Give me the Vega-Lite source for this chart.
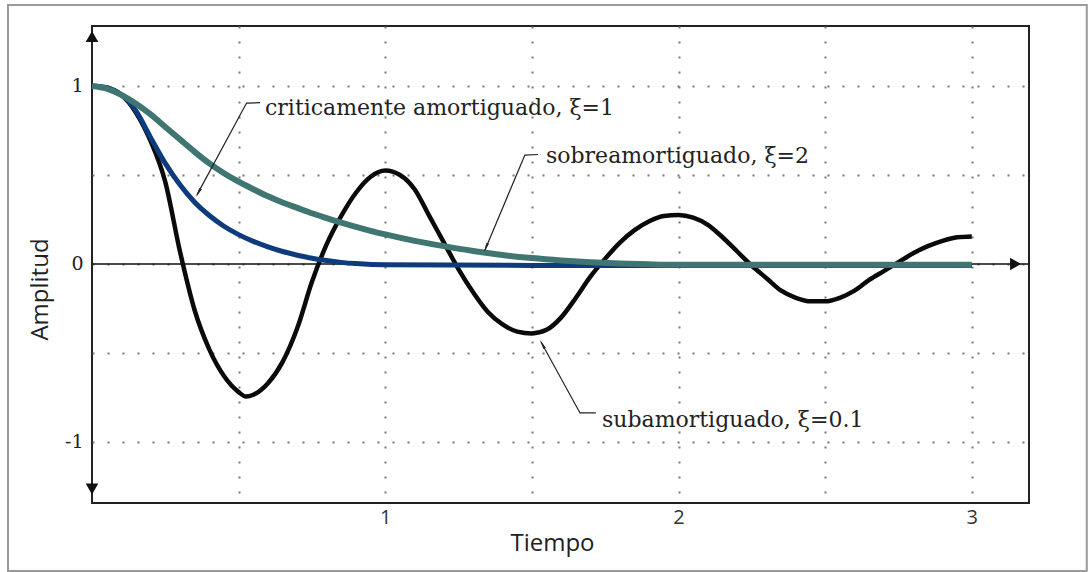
{
  "$schema": "https://vega.github.io/schema/vega-lite/v6.json",
  "width": 937,
  "height": 477,
  "autosize": "none",
  "padding": {"left": 92, "top": 26, "right": 62, "bottom": 69},
  "background": "white",
  "config": {"view": {"stroke": "#222", "strokeWidth": 2}},
  "datasets": {
    "curves": [
      {"s":"sub","t":0,"v":1},{"s":"sub","t":0.05,"v":0.99},{"s":"sub","t":0.1,"v":0.95},{"s":"sub","t":0.15,"v":0.85},{"s":"sub","t":0.2,"v":0.69},{"s":"sub","t":0.25,"v":0.46},{"s":"sub","t":0.3,"v":0.07},{"s":"sub","t":0.35,"v":-0.26},{"s":"sub","t":0.4,"v":-0.48},{"s":"sub","t":0.45,"v":-0.63},{"s":"sub","t":0.5,"v":-0.72},{"s":"sub","t":0.525,"v":-0.745},{"s":"sub","t":0.55,"v":-0.735},{"s":"sub","t":0.6,"v":-0.67},{"s":"sub","t":0.65,"v":-0.55},{"s":"sub","t":0.7,"v":-0.36},{"s":"sub","t":0.75,"v":-0.1},{"s":"sub","t":0.8,"v":0.11},{"s":"sub","t":0.85,"v":0.27},{"s":"sub","t":0.9,"v":0.4},{"s":"sub","t":0.95,"v":0.49},{"s":"sub","t":1.0,"v":0.525},{"s":"sub","t":1.05,"v":0.5},{"s":"sub","t":1.1,"v":0.42},{"s":"sub","t":1.15,"v":0.27},{"s":"sub","t":1.2,"v":0.12},{"s":"sub","t":1.25,"v":-0.03},{"s":"sub","t":1.3,"v":-0.16},{"s":"sub","t":1.35,"v":-0.27},{"s":"sub","t":1.4,"v":-0.34},{"s":"sub","t":1.45,"v":-0.38},{"s":"sub","t":1.5,"v":-0.39},{"s":"sub","t":1.55,"v":-0.37},{"s":"sub","t":1.6,"v":-0.3},{"s":"sub","t":1.65,"v":-0.19},{"s":"sub","t":1.7,"v":-0.07},{"s":"sub","t":1.75,"v":0.03},{"s":"sub","t":1.8,"v":0.12},{"s":"sub","t":1.85,"v":0.19},{"s":"sub","t":1.9,"v":0.24},{"s":"sub","t":1.95,"v":0.27},{"s":"sub","t":2.0,"v":0.275},{"s":"sub","t":2.05,"v":0.26},{"s":"sub","t":2.1,"v":0.22},{"s":"sub","t":2.15,"v":0.15},{"s":"sub","t":2.2,"v":0.07},{"s":"sub","t":2.25,"v":-0.01},{"s":"sub","t":2.3,"v":-0.08},{"s":"sub","t":2.35,"v":-0.15},{"s":"sub","t":2.4,"v":-0.19},{"s":"sub","t":2.45,"v":-0.21},{"s":"sub","t":2.5,"v":-0.21},{"s":"sub","t":2.55,"v":-0.19},{"s":"sub","t":2.6,"v":-0.15},{"s":"sub","t":2.65,"v":-0.09},{"s":"sub","t":2.7,"v":-0.04},{"s":"sub","t":2.75,"v":0.01},{"s":"sub","t":2.8,"v":0.06},{"s":"sub","t":2.85,"v":0.1},{"s":"sub","t":2.9,"v":0.13},{"s":"sub","t":2.95,"v":0.15},{"s":"sub","t":3.0,"v":0.155},
      {"s":"crit","t":0,"v":1},{"s":"crit","t":0.05,"v":0.99},{"s":"crit","t":0.1,"v":0.95},{"s":"crit","t":0.15,"v":0.86},{"s":"crit","t":0.2,"v":0.71},{"s":"crit","t":0.25,"v":0.565},{"s":"crit","t":0.3,"v":0.445},{"s":"crit","t":0.35,"v":0.347},{"s":"crit","t":0.4,"v":0.272},{"s":"crit","t":0.45,"v":0.212},{"s":"crit","t":0.5,"v":0.165},{"s":"crit","t":0.55,"v":0.127},{"s":"crit","t":0.6,"v":0.096},{"s":"crit","t":0.65,"v":0.07},{"s":"crit","t":0.7,"v":0.049},{"s":"crit","t":0.75,"v":0.032},{"s":"crit","t":0.8,"v":0.019},{"s":"crit","t":0.85,"v":0.009},{"s":"crit","t":0.9,"v":0.002},{"s":"crit","t":1.0,"v":-0.005},{"s":"crit","t":1.5,"v":-0.008},{"s":"crit","t":2.0,"v":-0.008},{"s":"crit","t":3.0,"v":-0.008},
      {"s":"sobre","t":0,"v":1},{"s":"sobre","t":0.05,"v":0.985},{"s":"sobre","t":0.1,"v":0.95},{"s":"sobre","t":0.15,"v":0.9},{"s":"sobre","t":0.2,"v":0.84},{"s":"sobre","t":0.25,"v":0.77},{"s":"sobre","t":0.3,"v":0.7},{"s":"sobre","t":0.35,"v":0.63},{"s":"sobre","t":0.4,"v":0.565},{"s":"sobre","t":0.45,"v":0.51},{"s":"sobre","t":0.5,"v":0.462},{"s":"sobre","t":0.55,"v":0.42},{"s":"sobre","t":0.6,"v":0.38},{"s":"sobre","t":0.65,"v":0.345},{"s":"sobre","t":0.7,"v":0.315},{"s":"sobre","t":0.75,"v":0.285},{"s":"sobre","t":0.8,"v":0.258},{"s":"sobre","t":0.85,"v":0.232},{"s":"sobre","t":0.9,"v":0.208},{"s":"sobre","t":0.95,"v":0.186},{"s":"sobre","t":1.0,"v":0.166},{"s":"sobre","t":1.1,"v":0.13},{"s":"sobre","t":1.2,"v":0.1},{"s":"sobre","t":1.3,"v":0.073},{"s":"sobre","t":1.4,"v":0.05},{"s":"sobre","t":1.5,"v":0.033},{"s":"sobre","t":1.6,"v":0.02},{"s":"sobre","t":1.7,"v":0.01},{"s":"sobre","t":1.8,"v":0.003},{"s":"sobre","t":1.9,"v":-0.002},{"s":"sobre","t":2.0,"v":-0.005},{"s":"sobre","t":3.0,"v":-0.005}
    ],
    "leaders": [
      {"id":"a1","k":0,"t":0.573,"v":0.906},{"id":"a1","k":1,"t":0.527,"v":0.904},{"id":"a1","k":2,"t":0.358,"v":0.388},
      {"id":"a2","k":0,"t":1.521,"v":0.615},{"id":"a2","k":1,"t":1.476,"v":0.612},{"id":"a2","k":2,"t":1.34,"v":0.079},
      {"id":"a3","k":0,"t":1.531,"v":-0.438},{"id":"a3","k":1,"t":1.664,"v":-0.837},{"id":"a3","k":2,"t":1.718,"v":-0.837}
    ],
    "arrows": [
      {"id":"a1","t":0.365,"v":0.407},{"id":"a2","t":1.345,"v":0.099},{"id":"a3","t":1.538,"v":-0.458},
      {"id":"yt","t":0,"v":1.278},{"id":"yb","t":0,"v":-1.264},{"id":"xr","t":3.149,"v":0}
    ],
    "labels": [
      {"t":0.59,"v":0.837,"txt":"criticamente amortiguado, ξ=1"},
      {"t":1.548,"v":0.567,"txt":"sobreamortiguado, ξ=2"},
      {"t":1.739,"v":-0.916,"txt":"subamortiguado, ξ=0.1"}
    ],
    "zero": [{"t":0,"t2":3.195,"v":0}],
    "frame": [{"t":-0.2864,"t2":3.392,"v":1.455,"v2":-1.725}]
  },
  "encoding": {
    "x": {
      "field": "t", "type": "quantitative",
      "scale": {"domain": [0, 3.195], "nice": false, "zero": false},
      "axis": {
        "values": [0.5, 1, 1.5, 2, 2.5, 3],
        "labelExpr": "datum.value === 1 ? '1' : datum.value === 2 ? '2' : datum.value === 3 ? '3' : ''",
        "grid": true, "gridDash": [2, 13], "gridColor": "#777", "gridWidth": 2,
        "domain": false, "ticks": false,
        "labelFont": "Open Sans", "labelFontSize": 20, "labelColor": "#333", "labelPadding": 4,
        "title": "Tiempo", "titleFont": "Open Sans", "titleFontSize": 24, "titleFontWeight": "normal", "titleColor": "#222",
        "titleX": 460, "titleY": 40, "titleBaseline": "middle"
      }
    },
    "y": {
      "field": "v", "type": "quantitative",
      "scale": {"domain": [-1.343, 1.337], "nice": false, "zero": false},
      "axis": {
        "values": [-1, -0.5, 0, 0.5, 1],
        "labelExpr": "datum.value === -1 ? '-1' : datum.value === 0 ? '0' : datum.value === 1 ? '1' : ''",
        "grid": true, "gridDash": [2, 13], "gridColor": "#777", "gridWidth": 2,
        "domain": false, "ticks": false,
        "labelFont": "DejaVu Serif", "labelFontSize": 19, "labelColor": "#222", "labelPadding": 9,
        "title": "Amplitud", "titleFont": "Open Sans", "titleFontSize": 24, "titleFontWeight": "normal", "titleColor": "#222",
        "titleX": -52, "titleY": 263, "titleBaseline": "middle", "titleAlign": "center"
      }
    }
  },
  "layer": [
    {
      "data": {"name": "frame"},
      "mark": {"type": "rect", "fill": "transparent", "stroke": "#9a9a9a", "strokeWidth": 2},
      "encoding": {"x2": {"field": "t2"}, "y2": {"field": "v2"}}
    },
    {
      "data": {"name": "zero"},
      "mark": {"type": "rule", "color": "#111", "strokeWidth": 1.5},
      "encoding": {"x2": {"field": "t2"}}
    },
    {
      "data": {"name": "curves"},
      "transform": [{"filter": "datum.s === 'sub'"}],
      "mark": {"type": "line", "color": "#0a0a0a", "strokeWidth": 4.5, "interpolate": "monotone"},
      "encoding": {}
    },
    {
      "data": {"name": "curves"},
      "transform": [{"filter": "datum.s === 'crit'"}],
      "mark": {"type": "line", "color": "#0d3b7b", "strokeWidth": 5, "interpolate": "monotone"},
      "encoding": {}
    },
    {
      "data": {"name": "curves"},
      "transform": [{"filter": "datum.s === 'sobre'"}],
      "mark": {"type": "line", "color": "#3f7672", "strokeWidth": 6, "interpolate": "monotone"},
      "encoding": {}
    },
    {
      "data": {"name": "leaders"},
      "mark": {"type": "line", "color": "#222", "strokeWidth": 1.2},
      "encoding": {"detail": {"field": "id"}, "order": {"field": "k"}}
    },
    {
      "data": {"name": "arrows"},
      "transform": [{"filter": "datum.id === 'a1'"}],
      "mark": {"type": "point", "shape": "wedge", "filled": true, "color": "#222", "size": 130, "opacity": 1, "angle": 208}
    },
    {
      "data": {"name": "arrows"},
      "transform": [{"filter": "datum.id === 'a2'"}],
      "mark": {"type": "point", "shape": "wedge", "filled": true, "color": "#222", "size": 130, "opacity": 1, "angle": 203}
    },
    {
      "data": {"name": "arrows"},
      "transform": [{"filter": "datum.id === 'a3'"}],
      "mark": {"type": "point", "shape": "wedge", "filled": true, "color": "#222", "size": 130, "opacity": 1, "angle": 331}
    },
    {
      "data": {"name": "arrows"},
      "transform": [{"filter": "datum.id === 'yt'"}],
      "mark": {"type": "point", "shape": "triangle-up", "filled": true, "color": "#111", "size": 160, "opacity": 1}
    },
    {
      "data": {"name": "arrows"},
      "transform": [{"filter": "datum.id === 'yb'"}],
      "mark": {"type": "point", "shape": "triangle-down", "filled": true, "color": "#111", "size": 160, "opacity": 1}
    },
    {
      "data": {"name": "arrows"},
      "transform": [{"filter": "datum.id === 'xr'"}],
      "mark": {"type": "point", "shape": "triangle-right", "filled": true, "color": "#111", "size": 160, "opacity": 1}
    },
    {
      "data": {"name": "labels"},
      "mark": {"type": "text", "align": "left", "baseline": "alphabetic", "font": "DejaVu Serif", "fontSize": 22, "color": "#222"},
      "encoding": {"text": {"field": "txt"}}
    }
  ]
}
